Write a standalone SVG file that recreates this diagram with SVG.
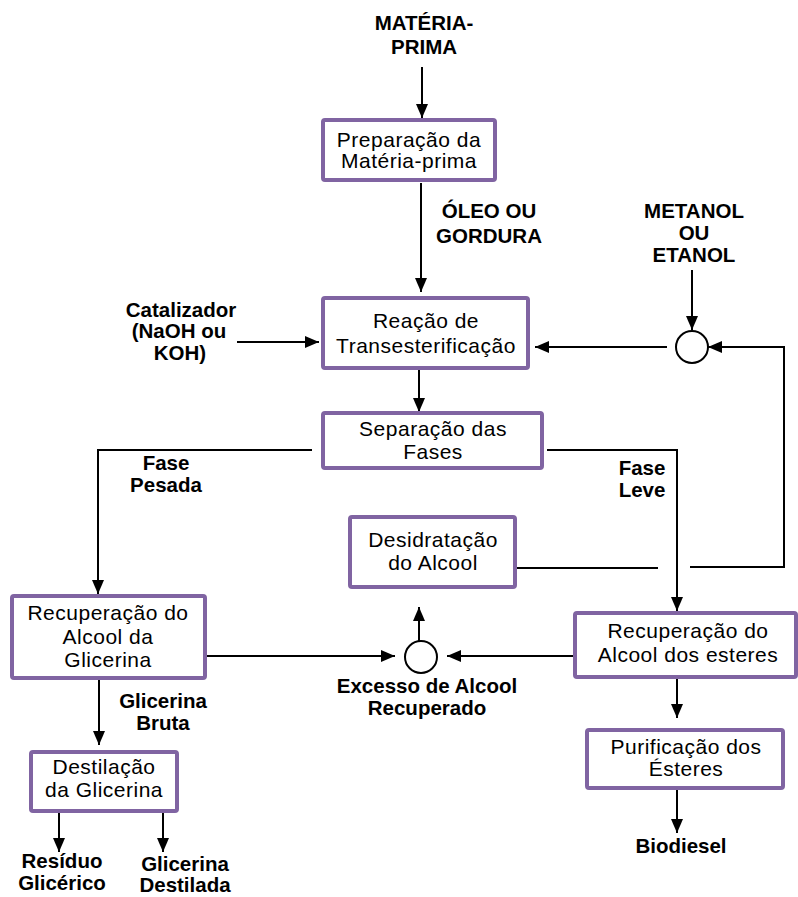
<svg xmlns="http://www.w3.org/2000/svg" width="798" height="897" viewBox="0 0 798 897">
<defs>
<style>
.box{fill:#fff;stroke:#8064A2;stroke-width:4}
.t{font-family:"Liberation Sans",Arial,sans-serif;font-size:21px;letter-spacing:0.5px;text-anchor:middle;fill:#000}
.b{font-family:"Liberation Sans",Arial,sans-serif;font-size:20.5px;font-weight:bold;text-anchor:middle;fill:#000}
.c{fill:none;stroke:#000;stroke-width:2}
.j{fill:#fff;stroke:#000;stroke-width:2}
</style>
<marker id="ah" markerWidth="14" markerHeight="12" refX="14" refY="6" orient="auto" markerUnits="userSpaceOnUse">
<path d="M0,0 L14,6 L0,12 z" fill="#000"/>
</marker>
</defs>
<rect width="798" height="897" fill="#fff"/>

<g id="connectors">
<line class="c" x1="422" y1="67" x2="422" y2="118" marker-end="url(#ah)"/>
<line class="c" x1="421" y1="183" x2="421" y2="292" marker-end="url(#ah)"/>
<line class="c" x1="237" y1="342" x2="319" y2="342" marker-end="url(#ah)"/>
<line class="c" x1="667" y1="347" x2="535" y2="347" marker-end="url(#ah)"/>
<line class="c" x1="692" y1="270" x2="692" y2="330" marker-end="url(#ah)"/>
<polyline class="c" points="690,567 784,567 784,347 708,347" marker-end="url(#ah)"/>
<line class="c" x1="515" y1="568" x2="658" y2="568"/>
<line class="c" x1="419" y1="368" x2="419" y2="412" marker-end="url(#ah)"/>
<polyline class="c" points="312,450 98,450 98,594" marker-end="url(#ah)"/>
<polyline class="c" points="547,450 677,450 677,611" marker-end="url(#ah)"/>
<line class="c" x1="205" y1="656" x2="395" y2="656" marker-end="url(#ah)"/>
<line class="c" x1="419" y1="641" x2="419" y2="607" marker-end="url(#ah)"/>
<line class="c" x1="575" y1="656" x2="447" y2="656" marker-end="url(#ah)"/>
<line class="c" x1="99" y1="678" x2="99" y2="745" marker-end="url(#ah)"/>
<line class="c" x1="59" y1="811" x2="59" y2="852" marker-end="url(#ah)"/>
<line class="c" x1="163" y1="811" x2="163" y2="852" marker-end="url(#ah)"/>
<line class="c" x1="677" y1="677" x2="677" y2="718" marker-end="url(#ah)"/>
<line class="c" x1="677" y1="788" x2="677" y2="833" marker-end="url(#ah)"/>
</g>

<g id="materia-prima">
<text class="b" x="424" y="30" font-size="21">MATÉRIA-</text>
<text class="b" x="424" y="54" font-size="21">PRIMA</text>
</g>

<g id="preparacao">
<rect class="box" x="323" y="120" width="172" height="60" rx="2"/>
<text class="t" x="409" y="147">Preparação da</text>
<text class="t" x="409" y="168">Matéria-prima</text>
</g>

<g id="oleo">
<text class="b" x="489" y="218">ÓLEO OU</text>
<text class="b" x="489" y="243">GORDURA</text>
</g>

<g id="metanol">
<text class="b" x="694" y="218">METANOL</text>
<text class="b" x="694" y="240">OU</text>
<text class="b" x="694" y="262">ETANOL</text>
</g>

<g id="catalizador">
<text class="b" x="181" y="317">Catalizador</text>
<text class="b" x="179" y="338">(NaOH ou</text>
<text class="b" x="180" y="360">KOH)</text>
</g>

<g id="reacao">
<rect class="box" x="323" y="298" width="205" height="70" rx="2"/>
<text class="t" x="426" y="328">Reação de</text>
<text class="t" x="426" y="353">Transesterificação</text>
</g>

<g id="mistura">
<ellipse class="j" cx="692" cy="347" rx="16" ry="16"/>
</g>

<g id="separacao">
<rect class="box" x="323" y="413" width="219" height="55" rx="2"/>
<text class="t" x="433" y="436">Separação das</text>
<text class="t" x="433" y="459">Fases</text>
</g>

<g id="fase-pesada">
<text class="b" x="166" y="470">Fase</text>
<text class="b" x="166" y="492">Pesada</text>
</g>

<g id="fase-leve">
<text class="b" x="642" y="475">Fase</text>
<text class="b" x="642" y="497">Leve</text>
</g>

<g id="desidratacao">
<rect class="box" x="350" y="517" width="165" height="70" rx="2"/>
<text class="t" x="433" y="547">Desidratação</text>
<text class="t" x="433" y="570">do Alcool</text>
</g>

<g id="recuperacao-glicerina">
<rect class="box" x="12" y="596" width="193" height="82" rx="2"/>
<text class="t" x="108" y="620">Recuperação do</text>
<text class="t" x="108" y="644">Alcool da</text>
<text class="t" x="108" y="667">Glicerina</text>
</g>

<g id="excesso">
<ellipse class="j" cx="421" cy="657" rx="16" ry="16"/>
<text class="b" x="427" y="693">Excesso de Alcool</text>
<text class="b" x="427" y="715">Recuperado</text>
</g>

<g id="recuperacao-esteres">
<rect class="box" x="575" y="613" width="221" height="64" rx="2"/>
<text class="t" x="688" y="638">Recuperação do</text>
<text class="t" x="688" y="662">Alcool dos esteres</text>
</g>

<g id="glicerina-bruta">
<text class="b" x="163" y="708">Glicerina</text>
<text class="b" x="163" y="730">Bruta</text>
</g>

<g id="destilacao">
<rect class="box" x="31" y="752" width="146" height="59" rx="2"/>
<text class="t" x="104" y="774">Destilação</text>
<text class="t" x="104" y="797">da Glicerina</text>
</g>

<g id="residuo">
<text class="b" x="62" y="868">Resíduo</text>
<text class="b" x="62" y="890">Glicérico</text>
</g>

<g id="glicerina-destilada">
<text class="b" x="185" y="871" font-size="18.5">Glicerina</text>
<text class="b" x="185" y="892" font-size="18.5">Destilada</text>
</g>

<g id="purificacao">
<rect class="box" x="587" y="730" width="196" height="58" rx="2"/>
<text class="t" x="686" y="754">Purificação dos</text>
<text class="t" x="686" y="776">Ésteres</text>
</g>

<g id="biodiesel">
<text class="b" x="681" y="853">Biodiesel</text>
</g>
</svg>
